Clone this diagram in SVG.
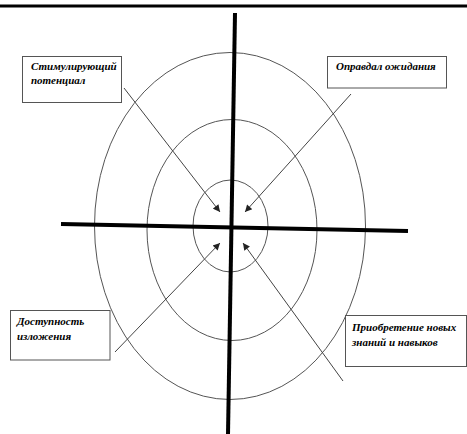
<svg xmlns="http://www.w3.org/2000/svg" width="467" height="434" viewBox="0 0 467 434">
<style>
.ell{fill:none;stroke:#555;stroke-width:1}
.axis{stroke:#000;stroke-width:4;stroke-linecap:butt}
.box{fill:#fff;stroke:#555;stroke-width:1}
.lbl{font-family:"Liberation Serif","Times New Roman",serif;font-size:11px;font-weight:bold;font-style:italic;fill:#000}
.arr{stroke:#444;stroke-width:1;fill:none;marker-end:url(#ah)}
</style>
<defs>
<marker id="ah" viewBox="0 0 10 10" refX="10" refY="5" markerWidth="9" markerHeight="7" markerUnits="userSpaceOnUse" orient="auto">
<path d="M0,0 L10,5 L0,10 Z" fill="#222"/>
</marker>
</defs>
<rect width="467" height="434" fill="#fff"/>
<line x1="0" y1="6" x2="467" y2="6" stroke="#000" stroke-width="3"/>
<g id="rings">
<ellipse class="ell" cx="230" cy="226" rx="135.5" ry="173.5"/>
<ellipse class="ell" cx="232" cy="230" rx="85" ry="110.5"/>
<ellipse class="ell" cx="230.5" cy="226" rx="37.5" ry="46"/>
</g>
<g id="axes">
<line class="axis" x1="235" y1="13" x2="228" y2="434"/>
<line class="axis" x1="61" y1="224" x2="408" y2="231"/>
</g>
<g id="connectors">
<line class="arr" x1="124" y1="88" x2="220" y2="212"/>
<line class="arr" x1="351" y1="94" x2="245" y2="212"/>
<line class="arr" x1="115" y1="352" x2="220" y2="243"/>
<line class="arr" x1="343" y1="381" x2="243" y2="243"/>
</g>
<g id="n1">
<rect class="box" x="22.5" y="56.5" width="99" height="46"/>
<text class="lbl" x="31" y="70">Стимулирующий</text>
<text class="lbl" x="31" y="84">потенциал</text>
</g>
<g id="n2">
<rect class="box" x="327.5" y="56.5" width="119" height="31.5"/>
<text class="lbl" x="336" y="70">Оправдал ожидания</text>
</g>
<g id="n3">
<rect class="box" x="10.5" y="310.5" width="99.5" height="49.5"/>
<text class="lbl" x="17" y="325">Доступность</text>
<text class="lbl" x="17" y="340">изложения</text>
</g>
<g id="n4">
<rect class="box" x="345.5" y="315.5" width="121" height="51"/>
<text class="lbl" x="352" y="331">Приобретение новых</text>
<text class="lbl" x="352" y="346">знаний и навыков</text>
</g>
</svg>
